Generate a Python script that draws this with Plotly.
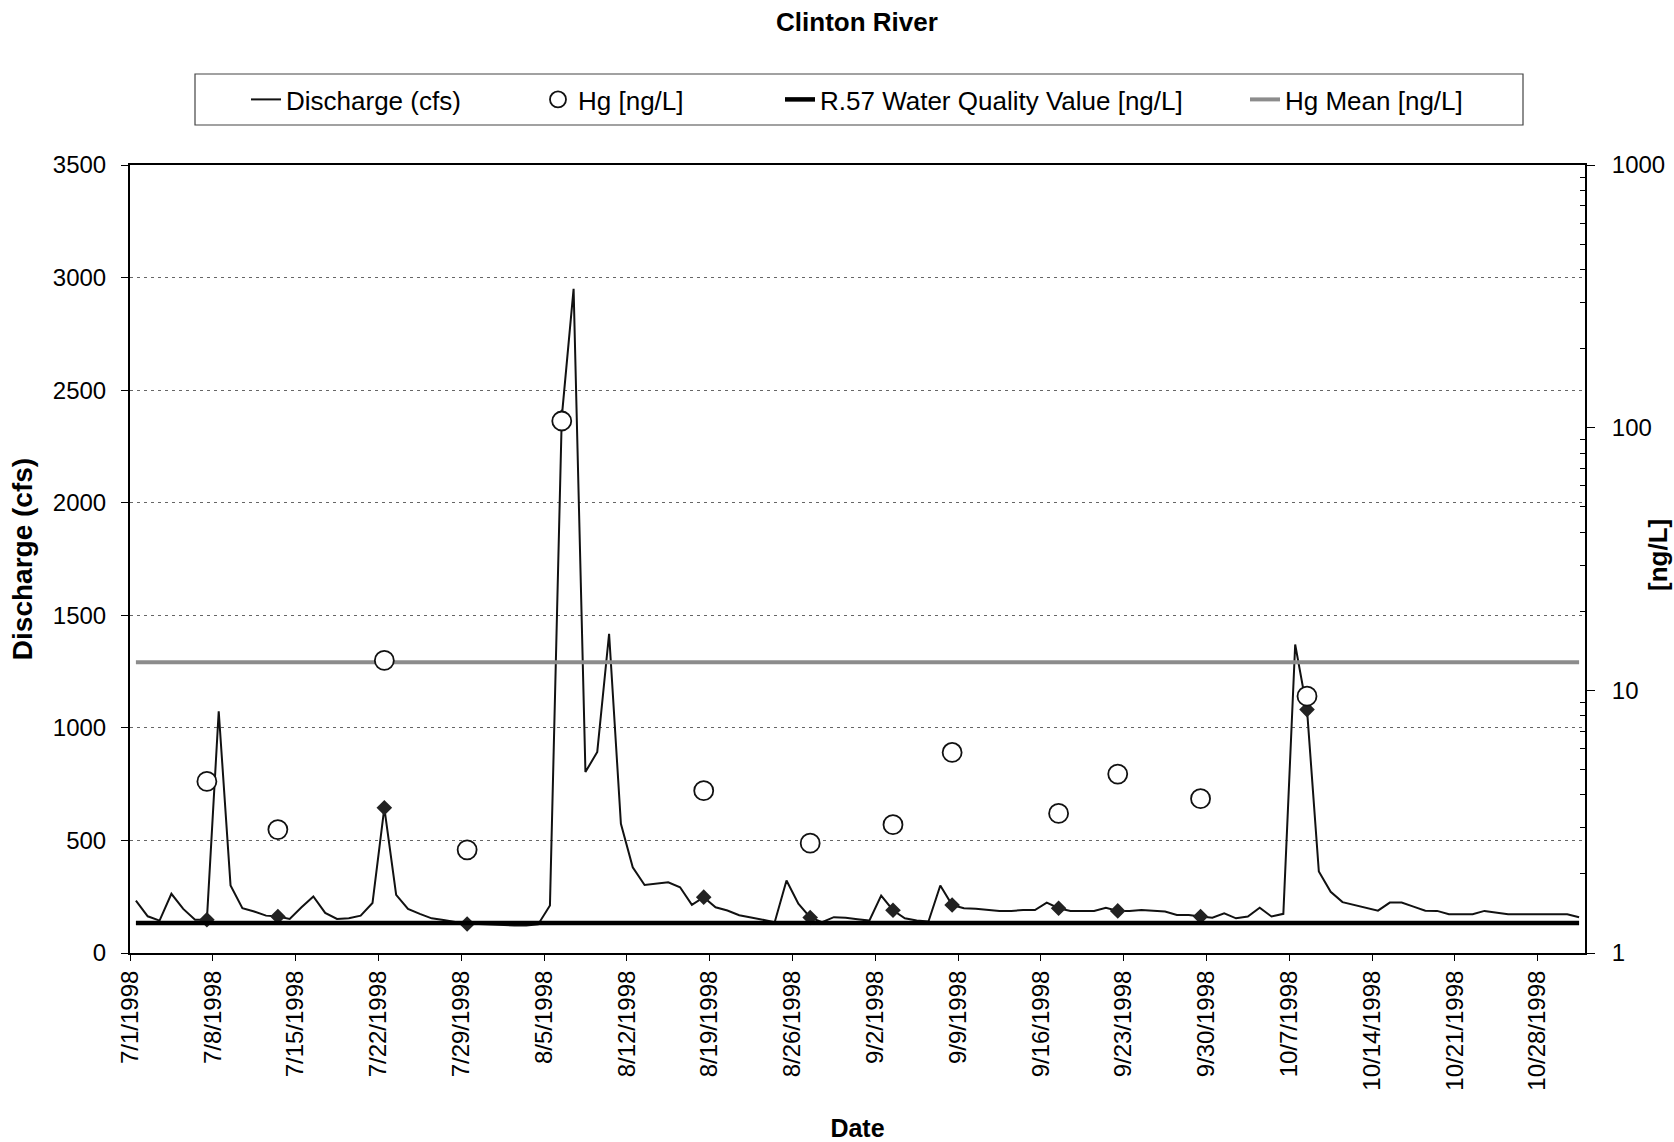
import plotly.graph_objects as go
import pandas as pd

# ---------------- data ----------------
start_date = "1998-07-01"

discharge_cfs = [
    233, 163, 144, 263, 196, 148, 148, 1074, 300, 199,      # 7/1 - 7/10
    184, 166, 162, 151, 203, 251, 178, 151, 154, 166,       # 7/11 - 7/20
    222, 645, 258, 196, 174, 154, 147, 139, 129, 129,       # 7/21 - 7/30
    126, 122, 122, 122, 127, 211, 2380, 2950, 804, 893,     # 7/31 - 8/9
    1418, 574, 381, 302, 307, 314, 292, 214, 248, 203,      # 8/10 - 8/19
    189, 168, 158, 148, 137, 322, 219, 158, 137, 159,       # 8/20 - 8/29
    157, 150, 144, 255, 190, 154, 144, 140, 300, 213,       # 8/30 - 9/8
    199, 196, 191, 187, 187, 191, 191, 224, 199, 187,       # 9/9 - 9/18
    187, 187, 201, 187, 187, 191, 188, 184, 169, 169,       # 9/19 - 9/28
    162, 157, 176, 154, 162, 201, 162, 174, 1370, 1081,     # 9/29 - 10/8
    362, 272, 226, 213, 200, 188, 224, 224, 206, 188,       # 10/9 - 10/18
    187, 172, 172, 172, 187, 181, 172, 172, 172, 172,       # 10/19 - 10/28
    172, 172, 159,                                          # 10/29 - 10/31
]

sample_dates = [
    "1998-07-07", "1998-07-13", "1998-07-22", "1998-07-29", "1998-08-06",
    "1998-08-18", "1998-08-27", "1998-09-03", "1998-09-08", "1998-09-17",
    "1998-09-22", "1998-09-29", "1998-10-08",
]
hg_ng_l = [4.5, 2.95, 13.0, 2.47, 106, 4.15, 2.62, 3.08, 5.8, 3.4, 4.8, 3.87, 9.5]

r57_value_ng_l = 1.3
hg_mean_ng_l = 12.8

tick_dates = [
    "1998-07-01", "1998-07-08", "1998-07-15", "1998-07-22", "1998-07-29",
    "1998-08-05", "1998-08-12", "1998-08-19", "1998-08-26", "1998-09-02",
    "1998-09-09", "1998-09-16", "1998-09-23", "1998-09-30", "1998-10-07",
    "1998-10-14", "1998-10-21", "1998-10-28",
]
tick_labels = [
    "7/1/1998", "7/8/1998", "7/15/1998", "7/22/1998", "7/29/1998",
    "8/5/1998", "8/12/1998", "8/19/1998", "8/26/1998", "9/2/1998",
    "9/9/1998", "9/16/1998", "9/23/1998", "9/30/1998", "10/7/1998",
    "10/14/1998", "10/21/1998", "10/28/1998",
]

# ---------------- derived positions ----------------
half_day = pd.Timedelta(hours=12)
days = pd.date_range(start_date, periods=len(discharge_cfs), freq="D")
x_days = days + half_day
x_samples = pd.to_datetime(sample_dates) + half_day
sample_discharge = [discharge_cfs[days.get_loc(pd.Timestamp(d))] for d in sample_dates]
x_span = [x_days[0], x_days[-1]]

FONT = "Liberation Sans, Arial, sans-serif"

fig = go.Figure()

fig.add_trace(go.Scatter(
    x=x_days, y=discharge_cfs, mode="lines", name="Discharge (cfs)",
    line=dict(color="#111111", width=2), yaxis="y", legend="legend",
))
fig.add_trace(go.Scatter(
    x=x_samples, y=sample_discharge, mode="markers", name="Discharge on sample date",
    marker=dict(symbol="diamond", size=12, color="#222222"), yaxis="y",
    showlegend=False,
))
fig.add_trace(go.Scatter(
    x=x_span, y=[hg_mean_ng_l, hg_mean_ng_l], mode="lines", name="Hg Mean [ng/L]",
    line=dict(color="#8c8c8c", width=4), yaxis="y2", legend="legend4",
))
fig.add_trace(go.Scatter(
    x=x_span, y=[r57_value_ng_l, r57_value_ng_l], mode="lines",
    name="R.57 Water Quality Value [ng/L]",
    line=dict(color="#000000", width=4.5), yaxis="y2", legend="legend3",
))
fig.add_trace(go.Scatter(
    x=x_samples, y=hg_ng_l, mode="markers", name="Hg [ng/L]",
    marker=dict(symbol="circle", size=19, color="white",
                line=dict(color="#111111", width=1.8)),
    yaxis="y2", legend="legend2",
))

L, R, T, B = 130, 89, 165, 189
W, H = 1674, 1142
pw = W - L - R
ph = H - T - B

def px_x(x):
    return (x - L) / pw

def px_y(y):
    return (H - B - y) / ph

legend_common = dict(
    orientation="h", yanchor="middle", xanchor="left",
    y=px_y(99.5), font=dict(family=FONT, size=26, color="#000"),
    bgcolor="rgba(0,0,0,0)", borderwidth=0,
)

fig.update_layout(
    width=W, height=H,
    margin=dict(l=L, r=R, t=T, b=B, autoexpand=False),
    paper_bgcolor="white", plot_bgcolor="white",
    font=dict(family=FONT, size=24, color="#000"),
    title=dict(text="<b>Clinton River</b>", x=px_x(857), xref="paper", xanchor="center",
               y=1 - 22 / H, yanchor="middle", yref="container",
               font=dict(family=FONT, size=26, color="#000")),
    xaxis=dict(
        type="date", range=[start_date, "1998-11-01"],
        tickmode="array", tickvals=tick_dates, ticktext=tick_labels,
        tickangle=-90, ticks="outside", ticklen=6, tickcolor="#000",
        showline=True, linecolor="#000", linewidth=2, mirror=True,
        showgrid=False, zeroline=False,
        tickfont=dict(family=FONT, size=24, color="#000"),
        title=dict(text="<b>Date</b>", font=dict(family=FONT, size=25, color="#000"),
                   standoff=30),
    ),
    yaxis=dict(
        range=[0, 3500], dtick=500, tick0=0,
        ticks="outside", ticklen=7, tickcolor="#000",
        showline=True, linecolor="#000", linewidth=2,
        showgrid=True, gridcolor="#666666", gridwidth=1, griddash="3px,4px",
        zeroline=False, ticklabelstandoff=10,
        tickfont=dict(family=FONT, size=24, color="#000"),
        title=dict(text="<b>Discharge (cfs)</b>",
                   font=dict(family=FONT, size=28, color="#000"), standoff=12),
    ),
    yaxis2=dict(
        type="log", range=[0, 3], overlaying="y", side="right",
        tickmode="array", tickvals=[1, 10, 100, 1000], ticktext=["1", "10", "100", "1000"],
        ticks="outside", ticklen=8, tickcolor="#000",
        minor=dict(ticks="inside", ticklen=5, tickcolor="#000",
                   tickvals=[2, 3, 4, 5, 6, 7, 8, 9, 20, 30, 40, 50, 60, 70, 80, 90,
                             200, 300, 400, 500, 600, 700, 800, 900]),
        showline=True, linecolor="#000", linewidth=2,
        showgrid=False, zeroline=False, ticklabelstandoff=12,
        tickfont=dict(family=FONT, size=24, color="#000"),
    ),
    legend=dict(x=px_x(246), **legend_common),
    legend2=dict(x=px_x(538), **legend_common),
    legend3=dict(x=px_x(780), **legend_common),
    legend4=dict(x=px_x(1245), **legend_common),
    shapes=[dict(type="rect", xref="paper", yref="paper",
                 x0=px_x(195), x1=px_x(1523), y0=px_y(125), y1=px_y(74),
                 line=dict(color="#444", width=1.2), fillcolor="rgba(0,0,0,0)")],
    annotations=[dict(text="<b>[ng/L]</b>", textangle=-90, xref="paper", yref="paper",
                      x=px_x(1658), y=px_y(555), showarrow=False,
                      xanchor="center", yanchor="middle",
                      font=dict(family=FONT, size=26, color="#000"))],
    showlegend=True,
)

fig.write_html("out.html")
